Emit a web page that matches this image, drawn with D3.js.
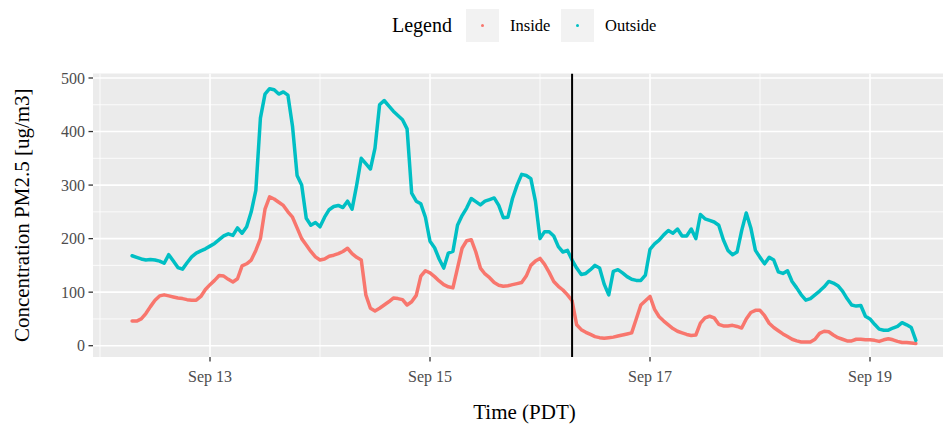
<!DOCTYPE html>
<html>
<head>
<meta charset="utf-8">
<script src="https://cdn.jsdelivr.net/npm/d3@7"></script>
<style>
  html, body { margin: 0; padding: 0; background: #fff; }
  svg { display: block; }
  text { font-family: "Liberation Serif", "Times New Roman", serif; }
</style>
</head>
<body>
<svg id="chart" width="943" height="425"></svg>
<script>
// ---- data (hourly readings, PDT) ----
const seriesNames = ["Inside", "Outside"];
const seriesColors = ["#F8766D", "#00BFC4"];
const startTime = "2020-09-12T07:00:00Z";
const endTime = "2020-09-19T10:00:00Z";
const eventTime = "2020-09-16T07:00:00Z";

const inside = [
  46, 46, 50, 60, 73, 85, 93, 95, 93, 91, 89, 88,
  86, 85, 85, 92, 105, 114, 122, 131, 130, 124, 119, 125,
  149, 153, 160, 178, 200, 255, 278, 274, 268, 262, 250, 240,
  220, 200, 188, 176, 166, 160, 162, 167, 169, 172, 176, 182,
  172, 165, 160, 95, 70, 65, 70, 76, 82, 89, 88, 86,
  76, 82, 94, 130, 140, 136, 129, 121, 114, 110, 108, 145,
  182, 196, 198, 175, 145, 134, 127, 118, 113, 111, 112, 114,
  116, 118, 130, 150, 158, 163, 152, 137, 120, 111, 104, 95,
  84, 39, 30, 25, 21, 17, 15, 14, 15, 16, 18, 20,
  22, 24, 50, 76, 84, 92, 68, 54, 46, 39, 32, 27,
  24, 21, 19, 20, 42, 52, 55, 52, 40, 37, 37, 38,
  36, 33, 50, 62, 66, 66, 56, 42, 34, 28, 22, 17,
  12, 9, 7, 7, 7, 12, 23, 27, 26, 20, 15, 12,
  9, 9, 12, 12, 11, 11, 10, 8, 11, 13, 11, 8,
  6, 6, 5, 4
];
const outside = [
  168, 165, 162, 160, 161, 160, 158, 154, 170, 158, 146, 143,
  155, 166, 173, 177, 181, 186, 191, 198, 205, 209, 206, 220,
  210, 222, 250, 290, 425, 470, 480, 478, 470, 474, 468, 410,
  318, 300, 238, 225, 230, 222, 240, 254, 260, 262, 258, 270,
  255, 300, 350, 340, 330, 369, 450, 458, 448, 438, 430, 422,
  405, 285, 270, 265, 240, 195, 183, 162, 145, 173, 176, 225,
  243, 257, 275, 269, 263, 270, 273, 276, 262, 239, 240, 275,
  300, 320, 318, 312, 270, 200, 213, 213, 205, 185, 175, 178,
  160, 145, 133, 135, 142, 150, 145, 115, 95, 139, 142, 136,
  129, 124, 122, 122, 132, 180, 190, 197, 207, 215, 210, 218,
  205, 205, 218, 200, 245, 237, 234, 231, 225, 198, 178, 170,
  175, 215, 248, 220, 178, 165, 153, 165, 160, 138, 135, 140,
  120, 108, 95, 85, 88, 95, 102, 110, 120, 117, 112, 102,
  88, 76, 74, 75, 55, 50, 40, 31, 29, 29, 33, 36,
  43, 39, 34, 10
];
const yTicks = [0, 100, 200, 300, 400, 500];
const xTickLabels = ["Sep 13", "Sep 15", "Sep 17", "Sep 19"];
const xTickDates = ["2020-09-13", "2020-09-15", "2020-09-17", "2020-09-19"];
const xMinorDates = ["2020-09-12", "2020-09-14", "2020-09-16", "2020-09-18", "2020-09-20"];
const yMinor = [50, 150, 250, 350, 450];

// ---- layout ----
const svg = d3.select("#chart");
const panel = { left: 93, right: 956, top: 73.5, bottom: 357 };
const times = d3.utcHours(new Date(startTime), d3.utcHour.offset(new Date(endTime), 1));

const x = d3.scaleUtc()
  .domain([new Date("2020-09-13T00:00:00Z"), new Date("2020-09-19T00:00:00Z")])
  .range([210, 870]);
const y = d3.scaleLinear().domain([0, 500]).range([345.7, 78.0]);

const defs = svg.append("defs");
defs.append("clipPath").attr("id", "clip")
  .append("rect").attr("x", panel.left).attr("y", panel.top)
  .attr("width", panel.right - panel.left).attr("height", panel.bottom - panel.top);

// panel background
svg.append("rect").attr("x", panel.left).attr("y", panel.top)
  .attr("width", panel.right - panel.left).attr("height", panel.bottom - panel.top)
  .attr("fill", "#EBEBEB");

const grid = svg.append("g").attr("clip-path", "url(#clip)");
// minor grid
grid.selectAll(".ymin").data(yMinor).join("line")
  .attr("x1", panel.left).attr("x2", panel.right)
  .attr("y1", d => y(d)).attr("y2", d => y(d))
  .attr("stroke", "#fff").attr("stroke-width", 0.8);
grid.selectAll(".xmin").data(xMinorDates).join("line")
  .attr("x1", d => x(new Date(d + "T00:00:00Z"))).attr("x2", d => x(new Date(d + "T00:00:00Z")))
  .attr("y1", panel.top).attr("y2", panel.bottom)
  .attr("stroke", "#fff").attr("stroke-width", 0.8);
// major grid
grid.selectAll(".ymaj").data(yTicks).join("line")
  .attr("x1", panel.left).attr("x2", panel.right)
  .attr("y1", d => y(d)).attr("y2", d => y(d))
  .attr("stroke", "#fff").attr("stroke-width", 1.6);
grid.selectAll(".xmaj").data(xTickDates).join("line")
  .attr("x1", d => x(new Date(d + "T00:00:00Z"))).attr("x2", d => x(new Date(d + "T00:00:00Z")))
  .attr("y1", panel.top).attr("y2", panel.bottom)
  .attr("stroke", "#fff").attr("stroke-width", 1.6);

// series
const allSeries = [inside, outside];
const line = d3.line()
  .x((d, i) => x(times[i]))
  .y(d => y(d));
const plot = svg.append("g").attr("clip-path", "url(#clip)");
allSeries.forEach((vals, k) => {
  plot.append("path")
    .datum(vals)
    .attr("d", line)
    .attr("fill", "none")
    .attr("stroke", seriesColors[k])
    .attr("stroke-width", 3.5)
    .attr("stroke-linejoin", "round")
    .attr("stroke-linecap", "round");
});

// event line
plot.append("line")
  .attr("x1", x(new Date(eventTime))).attr("x2", x(new Date(eventTime)))
  .attr("y1", panel.top).attr("y2", panel.bottom)
  .attr("stroke", "#000").attr("stroke-width", 2);

// y axis
const yAxis = svg.append("g");
yAxis.selectAll("line").data(yTicks).join("line")
  .attr("x1", panel.left - 4.5).attr("x2", panel.left)
  .attr("y1", d => y(d)).attr("y2", d => y(d))
  .attr("stroke", "#333").attr("stroke-width", 1.3);
yAxis.selectAll("text").data(yTicks).join("text")
  .attr("x", panel.left - 8).attr("y", d => y(d))
  .attr("dy", "0.35em")
  .attr("text-anchor", "end")
  .attr("font-size", 16)
  .attr("fill", "#4D4D4D")
  .text(d => d);

// x axis
const xAxis = svg.append("g");
xAxis.selectAll("line").data(xTickDates).join("line")
  .attr("x1", d => x(new Date(d + "T00:00:00Z"))).attr("x2", d => x(new Date(d + "T00:00:00Z")))
  .attr("y1", panel.bottom).attr("y2", panel.bottom + 4.5)
  .attr("stroke", "#333").attr("stroke-width", 1.3);
xAxis.selectAll("text").data(xTickDates).join("text")
  .attr("x", d => x(new Date(d + "T00:00:00Z")))
  .attr("y", panel.bottom + 25)
  .attr("text-anchor", "middle")
  .attr("font-size", 16)
  .attr("fill", "#4D4D4D")
  .text((d, i) => xTickLabels[i]);

// axis titles
svg.append("text")
  .attr("x", (panel.left + panel.right) / 2)
  .attr("y", 419)
  .attr("text-anchor", "middle")
  .attr("font-size", 21)
  .attr("fill", "#000")
  .text("Time (PDT)");
svg.append("text")
  .attr("transform", `translate(29, ${(panel.top + panel.bottom) / 2}) rotate(-90)`)
  .attr("text-anchor", "middle")
  .attr("font-size", 21)
  .attr("fill", "#000")
  .text("Concentration PM2.5 [ug/m3]");

// legend
const legend = svg.append("g");
legend.append("text")
  .attr("x", 392).attr("y", 32)
  .attr("font-size", 20)
  .attr("fill", "#000")
  .text("Legend");
const keyX = [466, 561];
const labelX = [510, 605];
seriesNames.forEach((name, k) => {
  legend.append("rect")
    .attr("x", keyX[k]).attr("y", 9)
    .attr("width", 33).attr("height", 33)
    .attr("fill", "#F2F2F2");
  legend.append("circle")
    .attr("cx", keyX[k] + 16.5).attr("cy", 25.5)
    .attr("r", 1.5)
    .attr("fill", seriesColors[k]);
  legend.append("text")
    .attr("x", labelX[k]).attr("y", 31)
    .attr("font-size", 16.5)
    .attr("fill", "#000")
    .text(name);
});
</script>
</body>
</html>
